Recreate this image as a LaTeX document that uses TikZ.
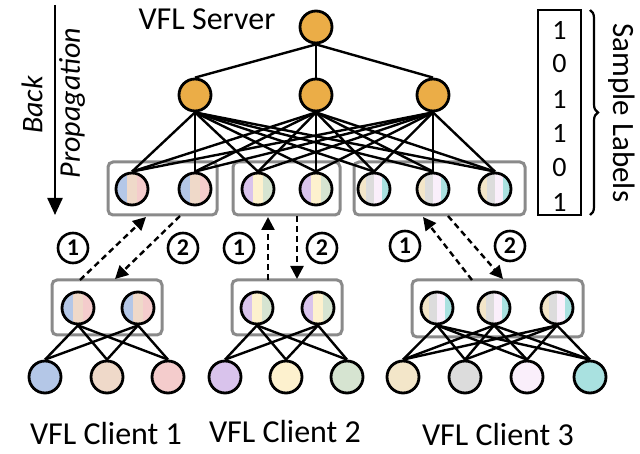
\documentclass[tikz,border=0pt]{standalone}
\usepackage{fontspec}
\setmainfont{Carlito}
\usetikzlibrary{arrows.meta,decorations.pathreplacing}
\definecolor{cor}{HTML}{EBAD47}
\definecolor{cblue}{HTML}{B4C7E7}
\definecolor{cpeach}{HTML}{EFD9C9}
\definecolor{cpink}{HTML}{F4CCCC}
\definecolor{clav}{HTML}{D9C3EC}
\definecolor{ccream}{HTML}{FDF1CE}
\definecolor{csage}{HTML}{D6E4D1}
\definecolor{cbeige}{HTML}{F3E6C9}
\definecolor{cgrey}{HTML}{DCDCDC}
\definecolor{cpw}{HTML}{FAEFFB}
\definecolor{cteal}{HTML}{A9E1E0}
\definecolor{boxgray}{HTML}{8A8A8A}
\tikzset{
  nn/.style={circle,draw=black,line width=2.8pt,minimum size=32pt,inner sep=0pt},
  orn/.style={nn,fill=cor},
  tri/.style n args={3}{nn,path picture={
    \fill[#1] ([shift={(-17pt,-17pt)}]path picture bounding box.center) rectangle ([shift={(-5.33pt,17pt)}]path picture bounding box.center);
    \fill[#2] ([shift={(-5.33pt,-17pt)}]path picture bounding box.center) rectangle ([shift={(5.33pt,17pt)}]path picture bounding box.center);
    \fill[#3] ([shift={(5.33pt,-17pt)}]path picture bounding box.center) rectangle ([shift={(17pt,17pt)}]path picture bounding box.center);
  }},
  quad/.style n args={4}{nn,path picture={
    \fill[#1] ([shift={(-17pt,-17pt)}]path picture bounding box.center) rectangle ([shift={(-8pt,17pt)}]path picture bounding box.center);
    \fill[#2] ([shift={(-8pt,-17pt)}]path picture bounding box.center) rectangle ([shift={(0pt,17pt)}]path picture bounding box.center);
    \fill[#3] ([shift={(0pt,-17pt)}]path picture bounding box.center) rectangle ([shift={(8pt,17pt)}]path picture bounding box.center);
    \fill[#4] ([shift={(8pt,-17pt)}]path picture bounding box.center) rectangle ([shift={(17pt,17pt)}]path picture bounding box.center);
  }},
  edge/.style={line width=2.4pt,black},
  grp/.style={draw=boxgray,line width=3pt,rounded corners=5pt},
  dar/.style={line width=2.4pt,dash pattern=on 6pt off 4pt,-{Triangle[length=13pt,width=13pt]}},
  cn/.style={circle,draw,line width=2.6pt,minimum size=30pt,inner sep=0pt,font=\fontsize{24}{24}\selectfont\bfseries},
  big/.style={inner sep=1pt,font=\fontsize{32}{32}\selectfont},
  dig/.style={font=\fontsize{28}{28}\selectfont}
}
\begin{document}
\begin{tikzpicture}[x=1pt,y=-1pt]
\useasboundingbox (0,0) rectangle (640,454);
% groups
\draw[grp] (108,162) rectangle (217,215);
\draw[grp] (233,162) rectangle (340,215);
\draw[grp] (354,162) rectangle (525,215);
\draw[grp] (52,280) rectangle (162,335);
\draw[grp] (232,280) rectangle (342,335);
\draw[grp] (412,280) rectangle (583,337);
% server
\node[orn] (top) at (316,27) {};
\node[orn] (h1) at (195,95) {};
\node[orn] (h2) at (316,95) {};
\node[orn] (h3) at (433,95) {};
% concat layer
\node[tri={cblue}{cpeach}{cpink}] (c1) at (132,189) {};
\node[tri={cblue}{cpeach}{cpink}] (c2) at (195,189) {};
\node[tri={clav}{ccream}{csage}] (c3) at (258,189) {};
\node[tri={clav}{ccream}{csage}] (c4) at (316,189) {};
\node[quad={cbeige}{cgrey}{cpw}{cteal}] (c5) at (374,189) {};
\node[quad={cbeige}{cgrey}{cpw}{cteal}] (c6) at (433,189) {};
\node[quad={cbeige}{cgrey}{cpw}{cteal}] (c7) at (495,189) {};
% local layer
\node[tri={cblue}{cpeach}{cpink}] (l1a) at (78,308) {};
\node[tri={cblue}{cpeach}{cpink}] (l1b) at (138,308) {};
\node[tri={clav}{ccream}{csage}] (l2a) at (257,308) {};
\node[tri={clav}{ccream}{csage}] (l2b) at (318,308) {};
\node[quad={cbeige}{cgrey}{cpw}{cteal}] (l3a) at (437,308) {};
\node[quad={cbeige}{cgrey}{cpw}{cteal}] (l3b) at (494,308) {};
\node[quad={cbeige}{cgrey}{cpw}{cteal}] (l3c) at (557,308) {};
% bottom inputs
\node[nn,fill=cblue] (b11) at (45,377) {};
\node[nn,fill=cpeach] (b12) at (107,377) {};
\node[nn,fill=cpink] (b13) at (168,377) {};
\node[nn,fill=clav] (b21) at (225,377) {};
\node[nn,fill=ccream] (b22) at (286,377) {};
\node[nn,fill=csage] (b23) at (347,377) {};
\node[nn,fill=cbeige] (b31) at (403,377) {};
\node[nn,fill=cgrey] (b32) at (465,377) {};
\node[nn,fill=cpw] (b33) at (527,377) {};
\node[nn,fill=cteal] (b34) at (590,377) {};
% edges
\foreach \h in {h1,h2,h3} {\draw[edge] (top.south) -- (\h.north);}
\foreach \h in {h1,h2,h3} {\foreach \c in {c1,c2,c3,c4,c5,c6,c7} {\draw[edge] (\h.south) -- (\c.north);}}
\foreach \l in {l1a,l1b} {\foreach \b in {b11,b12,b13} {\draw[edge] (\l.south) -- (\b.north);}}
\foreach \l in {l2a,l2b} {\foreach \b in {b21,b22,b23} {\draw[edge] (\l.south) -- (\b.north);}}
\foreach \l in {l3a,l3b,l3c} {\foreach \b in {b31,b32,b33,b34} {\draw[edge] (\l.south) -- (\b.north);}}
% dashed exchange arrows
\coordinate (a1s) at (80,280); \coordinate (a1e) at (146,217);
\coordinate (a2s) at (180,216); \coordinate (a2e) at (115,279);
\coordinate (a3s) at (268,280); \coordinate (a3e) at (268,217);
\coordinate (a4s) at (297,216); \coordinate (a4e) at (297,279);
\coordinate (a5s) at (472,280); \coordinate (a5e) at (423,217);
\coordinate (a6s) at (448,216); \coordinate (a6e) at (503,279);
\draw[dar] (a1s) -- (a1e);
\draw[dar] (a2s) -- (a2e);
\draw[dar] (a3s) -- (a3e);
\draw[dar] (a4s) -- (a4e);
\draw[dar] (a5s) -- (a5e);
\draw[dar] (a6s) -- (a6e);
\node[cn] (n11) at (73,248) {1};
\node[cn] (n12) at (183,248) {2};
\node[cn] (n21) at (239,248) {1};
\node[cn] (n22) at (322,248) {2};
\node[cn] (n31) at (405,246) {1};
\node[cn] (n32) at (510,246) {2};
% back propagation
\coordinate (bp1) at (55,5); \coordinate (bp2) at (55,215);
\draw[line width=2.4pt,-{Triangle[length=17pt,width=15pt]}] (bp1) -- (bp2);
\node[rotate=90,font=\fontsize{30}{30}\selectfont\itshape] (back) at (32,105) {Back};
\node[rotate=90,font=\fontsize{30}{30}\selectfont\itshape] (prop) at (72,103) {Propagation};
% texts
\node[big] (server) at (207,19) {VFL Server};
\node[big] (cl1) at (106,434) {VFL Client 1};
\node[big] (cl2) at (285,432) {VFL Client 2};
\node[big] (cl3) at (498,435) {VFL Client 3};
% sample labels
\node[draw,line width=2.6pt,minimum width=43pt,minimum height=205pt,inner sep=0pt] (lab) at (559.5,112.5) {};
\node[dig] (d1) at (559.5,30) {1};
\node[dig] (d2) at (559.5,64) {0};
\node[dig] (d3) at (559.5,99) {1};
\node[dig] (d4) at (559.5,133) {1};
\node[dig] (d5) at (559.5,168) {0};
\node[dig] (d6) at (559.5,202) {1};
\coordinate (br1) at (590,10); \coordinate (br2) at (590,215);
\draw[line width=2.2pt,decorate,decoration={brace,amplitude=8pt}] (br1) -- (br2);
\node[rotate=-90,font=\fontsize{31}{31}\selectfont] (sl) at (622,113) {Sample Labels};
\end{tikzpicture}
\end{document}
